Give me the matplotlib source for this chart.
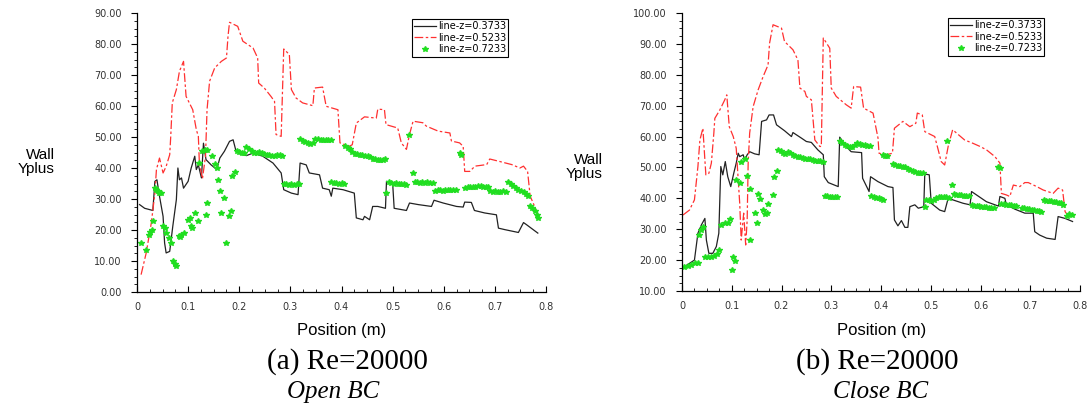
import matplotlib
matplotlib.use("Agg")
import matplotlib.pyplot as plt
from matplotlib.ticker import AutoMinorLocator, FormatStrFormatter
import numpy as np

# ---- panel (a): open BC ----
a_black_x = [0.005, 0.015, 0.031, 0.035, 0.039, 0.044, 0.051, 0.054, 0.057, 0.064, 0.070, 0.077, 0.080,
             0.083, 0.087, 0.091, 0.100, 0.106, 0.113, 0.116, 0.120, 0.126, 0.130, 0.135, 0.145, 0.156,
             0.162, 0.171, 0.181, 0.188, 0.193, 0.200, 0.214, 0.227, 0.246, 0.266, 0.282, 0.287, 0.302,
             0.315, 0.319, 0.331, 0.337, 0.357, 0.363, 0.376, 0.380, 0.383, 0.403, 0.425, 0.429, 0.442,
             0.445, 0.455, 0.461, 0.471, 0.486, 0.488, 0.500, 0.503, 0.527, 0.533, 0.550, 0.576, 0.581,
             0.599, 0.625, 0.638, 0.641, 0.654, 0.660, 0.680, 0.703, 0.707, 0.720, 0.746, 0.756, 0.762,
             0.784]
a_black_y = [28.2, 27.0, 26.3, 35.7, 36.2, 30.9, 24.4, 15.8, 12.6, 13.1, 21.2, 29.8, 40.0,
             36.2, 36.8, 33.5, 35.7, 40.0, 43.8, 39.5, 41.0, 36.8, 48.0, 42.7, 41.0, 39.5,
             43.2, 45.4, 48.6, 49.1, 45.9, 44.6, 44.0, 44.8, 43.8, 41.6, 38.4, 33.0, 31.9,
             31.4, 41.6, 41.0, 38.4, 37.8, 33.5, 33.0, 30.9, 33.5, 33.0, 31.9, 23.9, 23.3,
             24.4, 23.3, 27.6, 27.6, 27.0, 35.7, 35.2, 27.0, 26.3, 28.7, 28.2, 27.6, 29.6,
             28.7, 27.6, 27.4, 29.0, 28.9, 26.3, 25.5, 24.9, 20.6, 20.1, 19.2, 22.4, 21.7,
             19.0]

a_red_x = [0.008, 0.018, 0.028, 0.035, 0.038, 0.044, 0.051, 0.057, 0.064, 0.066, 0.069, 0.077, 0.083,
           0.091, 0.096, 0.109, 0.116, 0.120, 0.122, 0.128, 0.134, 0.137, 0.142, 0.152, 0.165, 0.175,
           0.178, 0.181, 0.197, 0.207, 0.227, 0.236, 0.238, 0.249, 0.262, 0.269, 0.272, 0.282, 0.284,
           0.287, 0.298, 0.302, 0.311, 0.324, 0.344, 0.347, 0.363, 0.370, 0.393, 0.397, 0.415, 0.421,
           0.429, 0.445, 0.468, 0.471, 0.484, 0.487, 0.510, 0.517, 0.527, 0.533, 0.540, 0.559, 0.566,
           0.589, 0.612, 0.615, 0.631, 0.638, 0.641, 0.651, 0.661, 0.684, 0.690, 0.707, 0.733, 0.749,
           0.756, 0.764, 0.769, 0.775, 0.785]
a_red_y = [5.6, 12.6, 22.3, 31.9, 39.5, 43.2, 38.4, 40.5, 44.3, 50.2, 61.0, 65.3, 71.2,
           74.4, 63.1, 58.8, 52.4, 50.2, 41.6, 36.5, 43.8, 58.8, 68.0, 72.3, 74.4, 75.5,
           82.5, 87.0, 85.7, 80.9, 78.7, 75.5, 67.4, 65.8, 63.1, 61.5, 50.8, 50.2, 61.5,
           78.4, 76.6, 65.3, 62.6, 61.0, 60.1, 65.8, 66.1, 59.9, 58.8, 48.1, 47.0, 47.5,
           54.5, 56.5, 56.1, 59.0, 58.8, 54.0, 52.9, 48.1, 46.0, 50.8, 55.1, 54.6, 53.5,
           51.9, 51.3, 48.7, 48.1, 47.0, 38.9, 38.9, 40.6, 41.1, 42.9, 42.2, 41.1, 40.0,
           40.6, 38.9, 30.9, 28.7, 24.4]

a_green_x = [0.008, 0.017, 0.023, 0.026, 0.029, 0.031, 0.035, 0.038, 0.041, 0.044, 0.046, 0.051, 0.054,
             0.056, 0.063, 0.067, 0.070, 0.074, 0.077, 0.082, 0.085, 0.087, 0.091, 0.100, 0.104, 0.106,
             0.108, 0.113, 0.119, 0.122, 0.128, 0.133, 0.137, 0.134, 0.137, 0.147, 0.152, 0.156, 0.158,
             0.163, 0.171, 0.165, 0.180, 0.184, 0.175, 0.186, 0.191,
             0.195, 0.200, 0.205, 0.210, 0.214, 0.219, 0.224, 0.229, 0.234, 0.239, 0.244, 0.249, 0.254,
             0.259, 0.264, 0.269, 0.274, 0.279, 0.284,
             0.288, 0.292, 0.297, 0.302, 0.307, 0.312, 0.317,
             0.319, 0.324, 0.329, 0.334, 0.339, 0.344, 0.349, 0.354, 0.359, 0.364, 0.369, 0.374, 0.379,
             0.380, 0.385, 0.390, 0.395, 0.400, 0.405,
             0.407, 0.412, 0.417, 0.421, 0.426, 0.431, 0.436, 0.441, 0.446, 0.451, 0.456, 0.461, 0.466,
             0.471, 0.476, 0.481, 0.485, 0.487,
             0.492, 0.497, 0.502, 0.507, 0.512, 0.517, 0.522, 0.527, 0.532, 0.540,
             0.543, 0.548, 0.553, 0.558, 0.563, 0.568, 0.573, 0.578,
             0.583, 0.588, 0.593, 0.598, 0.603, 0.608, 0.613, 0.618, 0.623, 0.631, 0.634,
             0.642, 0.647, 0.652, 0.657, 0.662, 0.667, 0.672, 0.677, 0.682, 0.687,
             0.691, 0.696, 0.701, 0.706, 0.711, 0.716, 0.721,
             0.726, 0.731, 0.736, 0.741, 0.746, 0.751, 0.756, 0.761, 0.765, 0.769, 0.773, 0.778, 0.782,
             0.785]
a_green_y = [15.8, 13.7, 18.5, 19.3, 19.9, 22.8, 33.5, 33.0, 32.5, 32.0, 31.9, 21.4, 20.5,
             19.0, 17.4, 15.8, 9.9, 9.0, 8.5, 18.0, 17.6, 18.5, 19.0, 23.3, 23.9, 21.2,
             20.6, 25.5, 22.8, 41.6, 45.4, 45.9, 45.9, 24.9, 28.7, 43.8, 41.4, 40.0, 36.2,
             32.5, 30.3, 25.5, 24.6, 26.0, 15.8, 37.3, 38.6,
             45.4, 45.2, 45.0, 44.8, 46.8, 46.2, 45.5, 45.0, 44.9, 45.1, 44.7, 44.5, 44.3,
             44.2, 44.0, 43.8, 44.1, 44.3, 44.0,
             35.0, 34.8, 34.6, 34.7, 34.5, 34.8, 35.0,
             49.4, 48.8, 48.3, 48.0, 47.8, 48.2, 49.2, 49.3, 49.1, 49.0, 49.1, 48.9, 49.0,
             35.4, 35.2, 35.1, 35.0, 35.2, 35.0,
             47.0, 46.5, 46.0, 45.2, 44.6, 44.4, 44.3, 44.3, 44.0, 43.8, 43.4, 43.0, 42.8,
             42.7, 42.6, 42.7, 42.8, 31.9,
             35.4, 35.2, 35.0, 35.1, 34.9, 34.8, 34.7, 34.6, 50.8, 38.4,
             35.6, 35.5, 35.3, 35.4, 35.3, 35.5, 35.3, 35.2,
             32.6, 32.8, 32.9, 32.7, 32.8, 32.9, 33.0, 32.9, 32.8, 44.7, 44.3,
             33.6, 33.8, 33.9, 33.9, 34.0, 34.1, 34.2, 34.0, 33.8, 33.8,
             32.6, 32.4, 32.5, 32.3, 32.4, 32.5, 32.4,
             35.4, 34.8, 34.1, 33.5, 33.0, 32.6, 32.1, 31.5, 30.9, 27.6, 27.0, 26.0, 24.8,
             23.8]

# ---- panel (b): close BC ----
b_black_x = [0.005, 0.025, 0.032, 0.039, 0.046, 0.049, 0.054, 0.062, 0.069, 0.074, 0.078, 0.082, 0.087,
             0.092, 0.098, 0.104, 0.109, 0.113, 0.116, 0.123, 0.126, 0.131, 0.136, 0.146, 0.155, 0.160,
             0.170, 0.175, 0.184, 0.190, 0.206, 0.220, 0.223, 0.240, 0.250, 0.260, 0.273, 0.284, 0.286,
             0.294, 0.314, 0.317, 0.330, 0.340, 0.361, 0.363, 0.376, 0.379, 0.394, 0.414, 0.424, 0.427,
             0.434, 0.441, 0.448, 0.454, 0.458, 0.468, 0.475, 0.486, 0.488, 0.497, 0.501, 0.518, 0.528,
             0.535, 0.565, 0.579, 0.582, 0.612, 0.636, 0.639, 0.649, 0.652, 0.669, 0.689, 0.706, 0.709,
             0.719, 0.733, 0.750, 0.756, 0.770, 0.785]
b_black_y = [17.9, 20.0, 28.7, 31.4, 33.5, 26.5, 22.2, 22.2, 24.4, 28.7, 50.3, 47.6, 51.9,
             47.0, 43.8, 48.1, 51.4, 54.6, 53.5, 54.1, 52.4, 54.1, 55.1, 54.4, 54.1, 64.9,
             65.4, 67.0, 67.0, 63.8, 61.9, 60.0, 61.3, 59.5, 58.4, 58.1, 55.7, 54.1, 47.0,
             45.1, 43.8, 59.8, 56.8, 55.1, 54.8, 46.5, 42.2, 47.0, 45.4, 43.8, 43.5, 33.0,
             31.1, 32.8, 30.6, 30.6, 37.3, 37.9, 36.8, 37.3, 47.9, 47.6, 38.4, 36.2, 35.7,
             40.0, 38.4, 37.9, 42.2, 38.9, 37.5, 40.6, 40.0, 37.9, 36.5, 35.2, 35.2, 29.2,
             28.1, 27.1, 26.7, 34.1, 33.5, 32.5]

b_red_x = [0.002, 0.015, 0.025, 0.032, 0.036, 0.042, 0.046, 0.048, 0.054, 0.059, 0.064, 0.066, 0.076,
           0.086, 0.090, 0.095, 0.103, 0.109, 0.113, 0.116, 0.119, 0.124, 0.128, 0.131, 0.133, 0.136,
           0.143, 0.153, 0.163, 0.173, 0.176, 0.183, 0.200, 0.206, 0.223, 0.233, 0.237, 0.247, 0.250,
           0.260, 0.267, 0.277, 0.280, 0.284, 0.297, 0.300, 0.310, 0.330, 0.340, 0.345, 0.359, 0.365,
           0.384, 0.394, 0.396, 0.411, 0.423, 0.427, 0.444, 0.458, 0.470, 0.473, 0.483, 0.488, 0.508,
           0.515, 0.521, 0.528, 0.535, 0.544, 0.568, 0.585, 0.599, 0.612, 0.629, 0.639, 0.642, 0.652,
           0.659, 0.666, 0.679, 0.689, 0.696, 0.713, 0.726, 0.746, 0.756, 0.765, 0.770, 0.777]
b_red_y = [34.6, 36.2, 39.5, 50.3, 58.9, 62.7, 52.4, 47.6, 48.1, 51.4, 61.1, 65.9, 68.6,
           71.9, 73.5, 63.2, 60.0, 56.2, 46.0, 38.4, 26.5, 35.2, 24.9, 33.0, 51.4, 61.1,
           69.7, 75.1, 79.4, 83.2, 90.2, 96.2, 95.1, 90.8, 88.1, 84.8, 75.7, 74.6, 73.0,
           71.9, 58.9, 56.8, 56.8, 91.9, 88.6, 75.7, 73.0, 70.3, 69.2, 76.2, 76.0, 69.2,
           67.6, 59.5, 54.6, 54.1, 54.6, 62.7, 64.9, 63.2, 64.3, 67.6, 67.0, 61.6, 60.0,
           55.7, 51.9, 50.8, 56.8, 62.2, 58.9, 57.8, 56.8, 55.7, 53.5, 51.4, 41.6, 41.1,
           40.6, 44.3, 43.8, 45.1, 45.1, 43.8, 42.7, 41.6, 43.3, 42.7, 35.7, 34.1]

b_green_x = [0.005, 0.012, 0.019, 0.026, 0.033, 0.034, 0.039, 0.042, 0.046, 0.052, 0.058, 0.064, 0.070,
             0.075, 0.079, 0.086, 0.092, 0.097, 0.100, 0.103, 0.106, 0.109, 0.116, 0.119, 0.126, 0.131,
             0.136, 0.137, 0.146, 0.151, 0.153, 0.157, 0.163, 0.167, 0.170, 0.173, 0.183, 0.184, 0.190,
             0.193, 0.198, 0.203, 0.208, 0.213, 0.218, 0.223, 0.228, 0.233, 0.238, 0.243, 0.248, 0.253,
             0.258, 0.263, 0.268, 0.273, 0.278, 0.283,
             0.287, 0.292, 0.297, 0.302, 0.307, 0.312,
             0.317, 0.322, 0.327, 0.332, 0.337, 0.342, 0.347, 0.352, 0.357, 0.362, 0.367, 0.372, 0.377,
             0.380, 0.385, 0.390, 0.395, 0.400, 0.405, 0.404, 0.408, 0.412,
             0.424, 0.429, 0.434, 0.439, 0.444, 0.449, 0.454, 0.459, 0.464, 0.469, 0.474, 0.479, 0.484,
             0.488, 0.491, 0.496, 0.501, 0.506, 0.511, 0.516, 0.521, 0.526, 0.531, 0.536, 0.533, 0.542,
             0.546, 0.551, 0.556, 0.561, 0.566, 0.571, 0.576,
             0.582, 0.587, 0.592, 0.597, 0.602, 0.607, 0.612, 0.617, 0.622, 0.627, 0.636, 0.639,
             0.642, 0.647, 0.652, 0.657, 0.662, 0.667, 0.672,
             0.683, 0.688, 0.693, 0.698, 0.703, 0.708, 0.713, 0.718, 0.722,
             0.727, 0.732, 0.737, 0.742, 0.747, 0.752, 0.757, 0.762, 0.766, 0.773, 0.778, 0.783]
b_green_y = [17.9, 18.2, 18.4, 19.0, 19.0, 28.1, 29.8, 30.8, 20.9, 21.1, 21.1, 21.3, 22.0,
             23.3, 31.4, 32.1, 31.9, 33.2, 16.8, 21.1, 19.8, 46.0, 45.1, 51.9, 52.7, 47.3,
             42.9, 26.5, 35.2, 32.1, 41.4, 39.7, 36.2, 35.0, 35.4, 38.2, 41.1, 47.0, 48.7,
             55.5, 55.2, 54.8, 54.4, 54.9, 54.6, 54.0, 53.7, 53.5, 53.3, 53.0, 52.7, 52.8,
             52.7, 52.4, 52.2, 52.1, 52.0, 51.9,
             40.8, 40.6, 40.5, 40.4, 40.5, 40.3,
             58.6, 58.0, 57.4, 57.0, 56.6, 56.5, 57.3, 57.8, 57.6, 57.4, 57.2, 57.0, 56.8,
             40.6, 40.4, 40.1, 40.0, 39.7, 39.5, 53.9, 53.8, 53.6,
             51.1, 50.8, 50.6, 50.5, 50.3, 50.1, 49.6, 49.1, 49.0, 48.6, 48.3, 48.2, 48.1,
             37.1, 39.6, 39.4, 39.2, 39.6, 40.2, 40.4, 40.3, 40.4, 40.3, 40.2, 58.6, 44.3,
             41.3, 41.2, 41.0, 41.1, 40.9, 40.8, 40.7,
             37.8, 37.6, 37.5, 37.4, 37.3, 37.2, 37.1, 37.0, 36.9, 36.8, 50.3, 49.8,
             38.2, 38.1, 37.9, 37.8, 37.8, 37.6, 37.5,
             37.0, 36.8, 36.6, 36.4, 36.2, 36.1, 35.9, 35.8, 35.6,
             39.4, 39.2, 39.1, 39.0, 38.9, 38.8, 38.6, 38.4, 38.0, 34.3, 34.8, 34.6]

labels = ["line-z=0.3733", "line-z=0.5233", "line-z=0.7233"]
xticks = [0, 0.1, 0.2, 0.3, 0.4, 0.5, 0.6, 0.7, 0.8]
xticklabels = ["0", "0.1", "0.2", "0.3", "0.4", "0.5", "0.6", "0.7", "0.8"]


def draw_panel(ax, bx, by, rx, ry, gx, gy, ylo, yhi):
    ax.plot(bx, by, color="#222222", lw=0.9, label=labels[0])
    ax.plot(rx, ry, color="#ff3030", lw=0.9, dashes=(7, 2, 2, 2), label=labels[1])
    ax.plot(gx, gy, ls="none", marker="*", ms=4, color="#11ee11", mec="#22dd22", label=labels[2])
    ax.set_xlim(0, 0.8)
    ax.set_ylim(ylo, yhi)
    ax.set_xticks(xticks)
    ax.set_xticklabels(xticklabels)
    ax.set_yticks(np.arange(ylo, yhi + 1, 10))
    ax.yaxis.set_major_formatter(FormatStrFormatter("%.2f"))
    ax.xaxis.set_minor_locator(AutoMinorLocator(4))
    ax.yaxis.set_minor_locator(AutoMinorLocator(4))
    for s in ["top", "right"]:
        ax.spines[s].set_visible(False)
    for s in ["left", "bottom"]:
        ax.spines[s].set_linewidth(0.9)
    ax.tick_params(axis="x", which="major", direction="in", length=4, pad=7, labelsize=7, labelcolor="#333333")
    ax.tick_params(axis="x", which="minor", direction="in", length=2.5)
    ax.tick_params(axis="y", which="major", direction="out", length=4, pad=7, labelsize=7, labelcolor="#333333")
    ax.tick_params(axis="y", which="minor", direction="out", length=2.5)


W, H = 1091, 413
fig = plt.figure(figsize=(W / 100, H / 100), dpi=100)

ax1 = fig.add_axes([137 / W, 1 - 292 / H, 409 / W, 279 / H])
draw_panel(ax1, a_black_x, a_black_y, a_red_x, a_red_y, a_green_x, a_green_y, 0, 90)
ax2 = fig.add_axes([682 / W, 1 - 291 / H, 398 / W, 278 / H])
draw_panel(ax2, b_black_x, b_black_y, b_red_x, b_red_y, b_green_x, b_green_y, 10, 100)

for ax, lx, ly in [(ax1, 412, 19), (ax2, 948, 18)]:
    leg = ax.legend(loc="upper left", bbox_to_anchor=(lx / W, 1 - ly / H),
                    bbox_transform=fig.transFigure, fontsize=7, fancybox=False,
                    edgecolor="black", framealpha=1, borderpad=0.25, labelspacing=0.15,
                    handlelength=2.2, handletextpad=0.2, borderaxespad=0, markerscale=1.0)
    leg.get_frame().set_linewidth(0.8)

for cx, yl in [(0, 162), (548, 167)]:
    fig.text((cx + 55) / W, 1 - yl / H, "Wall\nYplus", ha="right", va="center",
             fontsize=11, family="Liberation Sans", linespacing=1.0)

fig.text(342 / W, 1 - 331 / H, "Position (m)", ha="center", va="center", fontsize=12,
         family="Liberation Sans")
fig.text(882 / W, 1 - 331 / H, "Position (m)", ha="center", va="center", fontsize=12,
         family="Liberation Sans")

fig.text(347 / W, 1 - 362 / H, "(a) Re=20000", ha="center", va="center", fontsize=21,
         family="Liberation Serif")
fig.text(877 / W, 1 - 362 / H, "(b) Re=20000", ha="center", va="center", fontsize=21,
         family="Liberation Serif")
fig.text(333 / W, 1 - 392 / H, "Open BC", ha="center", va="center", fontsize=18,
         family="Liberation Serif", style="italic")
fig.text(881 / W, 1 - 392 / H, "Close BC", ha="center", va="center", fontsize=18,
         family="Liberation Serif", style="italic")

fig.savefig("out.png", dpi=100)
